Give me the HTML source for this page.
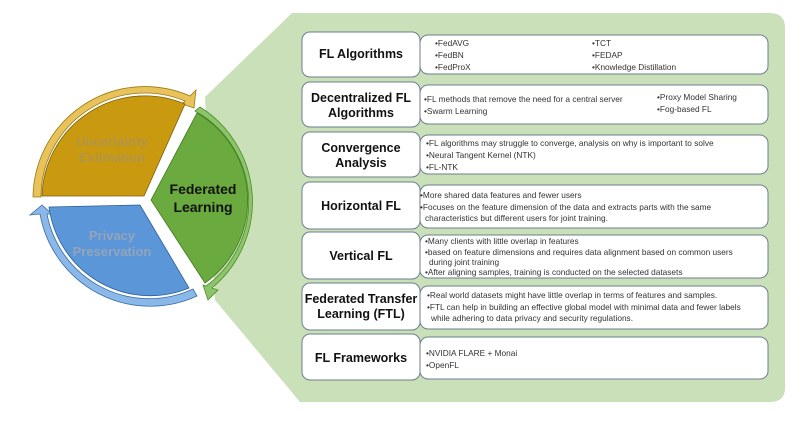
<!DOCTYPE html>
<html><head><meta charset="utf-8"><style>
html,body{margin:0;padding:0;background:#fff;}
svg{display:block;font-family:"Liberation Sans",Arial,sans-serif;}
.t{font-weight:bold;font-size:12.5px;fill:#111;text-anchor:middle;}
.c{font-size:8.3px;fill:#333;}
</style></head><body>
<svg width="800" height="423" viewBox="0 0 800 423" xmlns="http://www.w3.org/2000/svg">
<path d="M205 97 L292 13 L770 13 Q785 13 785 28 L785 388 Q785 402 770 402 L300 402 L215 300 Z" fill="#c9e0b8"/>
<rect x="292" y="13" width="493" height="389" rx="18" fill="#c9e0b8"/>

<!-- yellow -->
<path d="M33 197 A112 112 0 0 1 190 96 L196 90 L194 108 L182 104 L185 101 A104 104 0 0 0 41 197 Z" fill="#e8c25a" stroke="#9c7a10" stroke-width="0.8"/>
<path d="M42 196 A103 103 0 0 1 185 104 L144 196 Z" fill="#c99a10" stroke="#7a5e08" stroke-width="0.8"/>
<text x="112" y="146" text-anchor="middle" font-weight="bold" font-size="13" fill="#b0944a">Uncertainty</text>
<text x="112" y="162" text-anchor="middle" font-weight="bold" font-size="13" fill="#b0944a">Estimation</text>
<!-- green -->
<path d="M200 107 A112 112 0 0 1 212 288 L218 290 L208 300 L203 285 L206 286 A104 104 0 0 0 195 111 Z" fill="#8cc46a" stroke="#4f8a2a" stroke-width="0.8"/>
<path d="M197 113 A101 101 0 0 1 205 283 L151 200 Z" fill="#6aaa3e" stroke="#3f7a1f" stroke-width="0.8"/>
<text x="203" y="194" text-anchor="middle" font-weight="bold" font-size="14" fill="#111">Federated</text>
<text x="203" y="212" text-anchor="middle" font-weight="bold" font-size="14" fill="#111">Learning</text>
<!-- blue -->
<path d="M197 296 A112 112 0 0 1 40 214 L30 215 L42 205 L52 214 L47 214 A104 104 0 0 0 193 289 Z" fill="#8ab8e8" stroke="#3d6ea8" stroke-width="0.8"/>
<path d="M189 288 A102 102 0 0 1 49 207 L140 205 Z" fill="#5a96d8" stroke="#2d5e98" stroke-width="0.8"/>
<text x="112" y="240" text-anchor="middle" font-weight="bold" font-size="13" fill="#94a4ba">Privacy</text>
<text x="112" y="256" text-anchor="middle" font-weight="bold" font-size="13" fill="#94a4ba">Preservation</text>

<g stroke="#6d7f8f" stroke-width="1" fill="#fff">
<rect x="420" y="35" width="348" height="39" rx="8"/><rect x="302" y="32" width="118" height="45" rx="8"/>
<rect x="420" y="85" width="348" height="39" rx="8"/><rect x="302" y="82" width="118" height="45" rx="8"/>
<rect x="420" y="135" width="348" height="39" rx="8"/><rect x="302" y="132" width="118" height="45" rx="8"/>
<rect x="420" y="185" width="348" height="43" rx="8"/><rect x="302" y="182" width="118" height="47" rx="8"/>
<rect x="420" y="235" width="348" height="43" rx="8"/><rect x="302" y="232" width="118" height="47" rx="8"/>
<rect x="420" y="286" width="348" height="43" rx="8"/><rect x="302" y="283" width="118" height="47" rx="8"/>
<rect x="420" y="337" width="348" height="42" rx="8"/><rect x="302" y="334" width="118" height="46" rx="8"/>
</g>
<text class="t" x="361" y="58">FL Algorithms</text>
<text class="t" x="361" y="102">Decentralized FL</text><text class="t" x="361" y="117">Algorithms</text>
<text class="t" x="361" y="152">Convergence</text><text class="t" x="361" y="167">Analysis</text>
<text class="t" x="361" y="210">Horizontal FL</text>
<text class="t" x="361" y="260">Vertical FL</text>
<text class="t" x="361" y="303">Federated Transfer</text><text class="t" x="361" y="318">Learning (FTL)</text>
<text class="t" x="361" y="362">FL Frameworks</text>

<g class="c">
<text x="435" y="46">•FedAVG</text><text x="435" y="58">•FedBN</text><text x="435" y="70">•FedProX</text>
<text x="592" y="46">•TCT</text><text x="592" y="58">•FEDAP</text><text x="592" y="70">•Knowledge Distillation</text>
<text x="424" y="102">•FL methods that remove the need for a central server</text><text x="424" y="114">•Swarm Learning</text>
<text x="657" y="100">•Proxy Model Sharing</text><text x="657" y="112">•Fog-based FL</text>
<text x="426" y="146">•FL algorithms may struggle to converge, analysis on why is important to solve</text>
<text x="426" y="158">•Neural Tangent Kernel (NTK)</text><text x="426" y="170">•FL-NTK</text>
<text x="420" y="198">•More shared data features and fewer users</text>
<text x="420" y="210">•Focuses on the feature dimension of the data and extracts parts with the same</text>
<text x="425" y="221">characteristics but different users for joint training.</text>
<text x="425" y="244">•Many clients with little overlap in features</text>
<text x="425" y="255">•based on feature dimensions and requires data alignment based on common users</text>
<text x="429" y="265">during joint training</text>
<text x="425" y="275">•After aligning samples, training is conducted on the selected datasets</text>
<text x="427" y="298">•Real world datasets might have little overlap in terms of features and samples.</text>
<text x="427" y="310">•FTL can help in building an effective global model with minimal data and fewer labels</text>
<text x="431" y="321">while adhering to data privacy and security regulations.</text>
<text x="426" y="356">•NVIDIA FLARE + Monai</text><text x="426" y="368">•OpenFL</text>
</g>
</svg>
</body></html>
